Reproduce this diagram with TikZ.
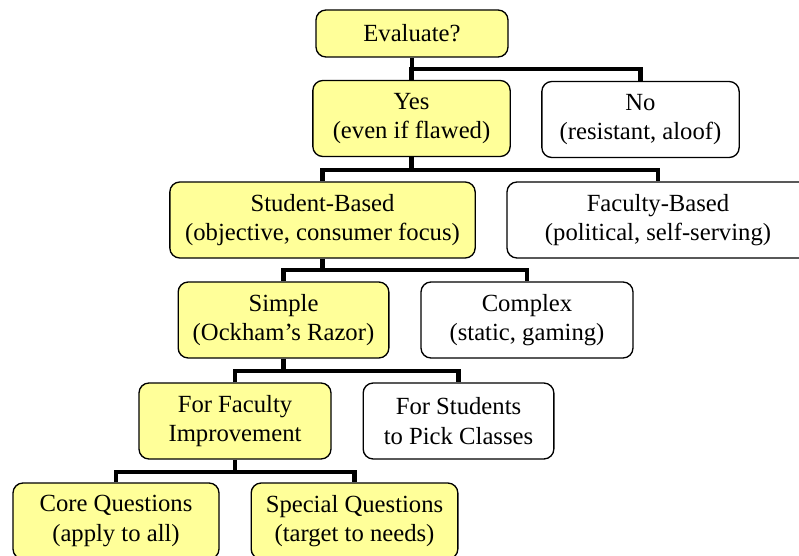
\documentclass[tikz,border=0pt]{standalone}
\usepackage{fontspec}
\setmainfont{Liberation Serif}
\usepackage{xcolor}
\usepackage{tikz}
\definecolor{pick}{HTML}{FFFF99}
\definecolor{line}{HTML}{000000}
\tikzset{
  box/.style={draw=line, line width=1pt, rounded corners=7.5pt, align=center,
    minimum height=57pt, inner sep=0pt, font=\fontsize{18.5}{22}\selectfont},
  yesBox/.style={box, fill=pick},
  noBox/.style={box, fill=white},
  busLine/.style={draw=line, line width=3.2pt}
}
\begin{document}
\begin{tikzpicture}[x=0.75pt, y=-0.75pt]
\useasboundingbox (0,0) rectangle (799,556);
\clip (0,0) rectangle (799,556);
% bus heights
\coordinate (b1) at (0,69);
\coordinate (b2) at (0,170);
\coordinate (b3) at (0,270);
\coordinate (b4) at (0,371);
\coordinate (b5) at (0,472);

% level 0
\node[yesBox, minimum width=144pt, minimum height=35.25pt] (eval) at (412,33.5) {Evaluate?};
% level 1
\node[yesBox, minimum width=148pt] (yes) at (411.5,118.5) {Yes\\(even if flawed)};
\node[noBox, minimum width=148pt] (no) at (640.5,119.5) {No\\(resistant, aloof)};
% level 2
\node[yesBox, minimum width=229pt] (student) at (322.5,220) {Student-Based\\(objective, consumer focus)};
\node[noBox, minimum width=226.5pt] (faculty) at (658,220) {Faculty-Based\\(political, self-serving)};
% level 3
\node[yesBox, minimum width=158pt] (simple) at (283.5,320) {Simple\\(Ockham’s Razor)};
\node[noBox, minimum width=159pt] (complex) at (527,320) {Complex\\(static, gaming)};
% level 4
\node[yesBox, minimum width=144pt] (improve) at (235,421) {For Faculty\\Improvement};
\node[noBox, minimum width=143pt] (classes) at (458.5,421) {For Students\\to Pick Classes};
% level 5
\node[yesBox, minimum width=154.5pt] (core) at (116,521) {Core Questions\\(apply to all)};
\node[yesBox, minimum width=155pt] (special) at (354.5,521) {Special Questions\\(target to needs)};

% connectors
\draw[busLine] (eval.south) -- (eval.south |- b1);
\draw[busLine] (yes.north) |- (b1 -| no.north) -- (no.north);

\draw[busLine] (yes.south) -- (yes.south |- b2);
\draw[busLine] (student.north) |- (b2 -| faculty.north) -- (faculty.north);

\draw[busLine] (student.south) -- (student.south |- b3);
\draw[busLine] (simple.north) |- (b3 -| complex.north) -- (complex.north);

\draw[busLine] (simple.south) -- (simple.south |- b4);
\draw[busLine] (improve.north) |- (b4 -| classes.north) -- (classes.north);

\draw[busLine] (improve.south) -- (improve.south |- b5);
\draw[busLine] (core.north) |- (b5 -| special.north) -- (special.north);
\end{tikzpicture}
\end{document}
